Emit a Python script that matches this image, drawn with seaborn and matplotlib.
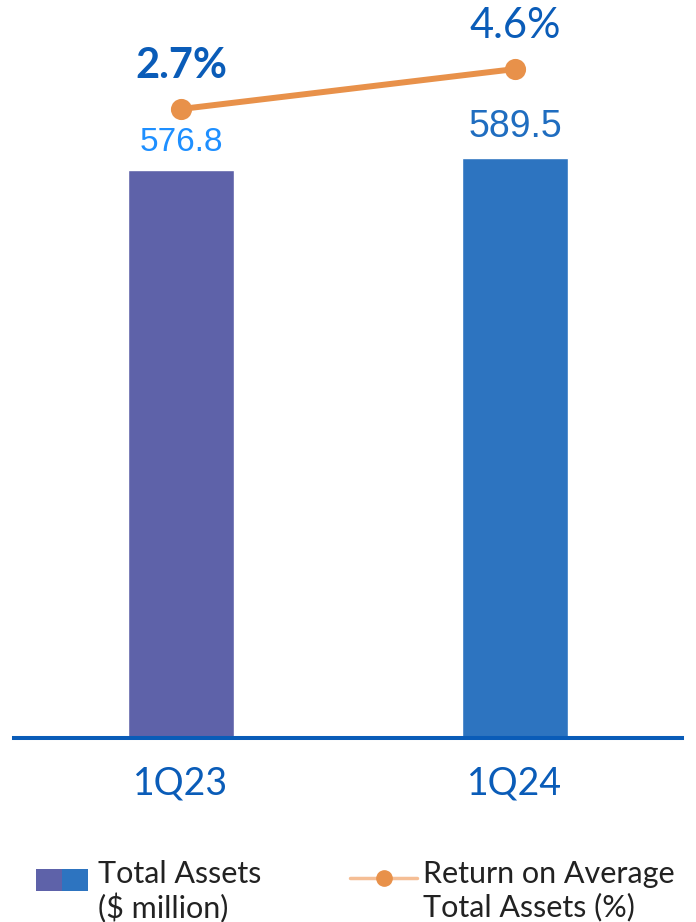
import matplotlib
matplotlib.use("Agg")
import matplotlib.pyplot as plt
import seaborn as sns
import pandas as pd
from matplotlib.patches import Patch
from matplotlib.lines import Line2D
from matplotlib.legend_handler import HandlerTuple, HandlerPatch, HandlerLine2D

quarters = ["1Q23", "1Q24"]
total_assets = [576.8, 589.5]
roa = [2.7, 4.6]
asset_labels = ["576.8", "589.5"]
roa_labels = ["2.7%", "4.6%"]

bar_colors = ["#5E62A9", "#2D74C0"]
asset_label_colors = ["#1E8FFF", "#1F6DC0"]
asset_label_sizes = [24, 27]
roa_weights = ["bold", "normal"]
orange = "#E8914A"
axis_blue = "#0A5CB8"

sns.set_theme(style="white")
plt.rcParams["font.family"] = ["Lato", "DejaVu Sans"]

df = pd.DataFrame({"quarter": quarters, "assets": total_assets, "roa": roa})

fig = plt.figure(figsize=(6.96, 9.22), dpi=100)
ax = fig.add_axes([14 / 696, (922 - 738) / 922, 668 / 696, 738 / 922])

sns.barplot(data=df, x="quarter", y="assets", hue="quarter", palette=bar_colors,
            width=0.315, legend=False, ax=ax, saturation=1)
ax.set_ylim(0, 750)
ax.set_xlim(-0.5, 1.5)

for i, (v, lab) in enumerate(zip(total_assets, asset_labels)):
    ax.annotate(lab, (i, v), xytext=(0, 9), textcoords="offset points",
                ha="center", va="bottom", fontsize=asset_label_sizes[i],
                color=asset_label_colors[i], family=["Liberation Sans", "DejaVu Sans"])

ax2 = ax.twinx()
sns.pointplot(data=df, x="quarter", y="roa", ax=ax2, color=orange,
              markersize=12, linewidth=4.3)
ax2.set_ylim(-27.18, 7.88)
ax2.set_xlim(-0.5, 1.5)
for i, (v, lab) in enumerate(zip(roa, roa_labels)):
    ax2.annotate(lab, (i, v), xytext=(0, 17), textcoords="offset points",
                 ha="center", va="bottom", fontsize=30, color=axis_blue,
                 fontweight=roa_weights[i])

for a in (ax, ax2):
    for s in ["top", "right", "left"]:
        a.spines[s].set_visible(False)
    a.set_yticks([])
    a.set_ylabel("")
    a.set_xlabel("")
ax2.spines["bottom"].set_visible(False)
ax.spines["bottom"].set_color(axis_blue)
ax.spines["bottom"].set_linewidth(2.9)
ax.tick_params(axis="x", length=0, pad=20, labelsize=27, labelcolor=axis_blue)
ax2.tick_params(axis="x", length=0, labelbottom=False)


class ShiftPatch(HandlerPatch):
    def __init__(self, shift, **kw):
        super().__init__(**kw)
        self.shift = shift

    def create_artists(self, legend, orig_handle, xdescent, ydescent, width,
                       height, fontsize, trans):
        return super().create_artists(legend, orig_handle, xdescent,
                                      ydescent - self.shift, width, height,
                                      fontsize, trans)


class ShiftLine(HandlerLine2D):
    def __init__(self, shift, **kw):
        super().__init__(**kw)
        self.shift = shift

    def create_artists(self, legend, orig_handle, xdescent, ydescent, width,
                       height, fontsize, trans):
        return super().create_artists(legend, orig_handle, xdescent,
                                      ydescent - 2 * self.shift, width, height,
                                      fontsize, trans)


leg_fs = 22
h1 = (Patch(facecolor=bar_colors[0], edgecolor="none"),
      Patch(facecolor=bar_colors[1], edgecolor="none"))
leg1 = fig.legend([h1], ["Total Assets\n($ million)"],
                  handler_map={tuple: HandlerTuple(ndivide=None, pad=0),
                               Patch: ShiftPatch(shift=9)},
                  loc="upper left", bbox_to_anchor=(36 / 696, 1 - 860 / 922),
                  frameon=False, fontsize=leg_fs, handlelength=1.7, handleheight=0.75,
                  handletextpad=0.33, borderpad=0, borderaxespad=0, labelcolor="#222222")
h2 = (Line2D([], [], color="#F5BE95", lw=2.5),
      Line2D([], [], color=orange, marker="o", markersize=11, lw=0))
leg2 = fig.legend([h2], ["Return on Average\nTotal Assets (%)"],
                  handler_map={tuple: HandlerTuple(ndivide=1),
                               Line2D: ShiftLine(shift=10)},
                  loc="upper left", bbox_to_anchor=(350 / 696, 1 - 860 / 922),
                  frameon=False, fontsize=leg_fs, handlelength=2.2,
                  handletextpad=0.2, borderpad=0, borderaxespad=0, labelcolor="#222222")

fig.savefig("out.png", dpi=100)
